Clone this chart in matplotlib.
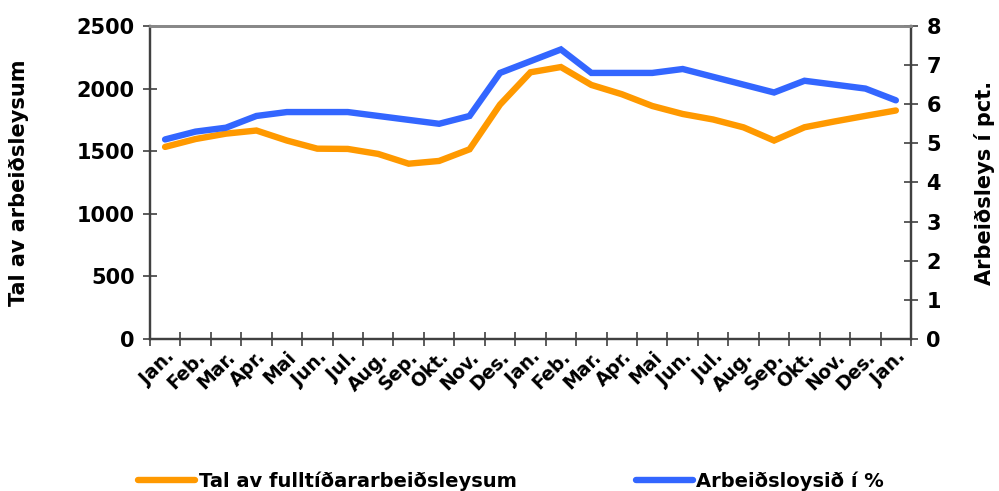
import matplotlib
matplotlib.use("Agg")
import matplotlib.pyplot as plt
import numpy as np

months = ["Jan.", "Feb.", "Mar.", "Apr.", "Mai", "Jun.", "Jul.", "Aug.", "Sep.", "Okt.", "Nov.", "Des.",
          "Jan.", "Feb.", "Mar.", "Apr.", "Mai", "Jun.", "Jul.", "Aug.", "Sep.", "Okt.", "Nov.", "Des.", "Jan."]
fulltid = [1534, 1597, 1640, 1665, 1585, 1520, 1518, 1478, 1400, 1422, 1515, 1872,
           2130, 2172, 2029, 1955, 1861, 1797, 1753, 1690, 1585, 1691, 1738, 1782, 1825]
pct = [5.1, 5.3, 5.4, 5.7, 5.8, 5.8, 5.8, 5.7, 5.6, 5.5, 5.7, 6.8,
       7.1, 7.4, 6.8, 6.8, 6.8, 6.9, 6.7, 6.5, 6.3, 6.6, 6.5, 6.4, 6.1]

label_left = "Tal av arbeiðsleysum"
label_right = "Arbeiðsleys í pct."
leg1 = "Tal av fulltíðararbeiðsleysum"
leg2 = "Arbeiðsloysið í %"

orange = "#FF9900"
blue = "#3366FF"
dark = "#404040"

plt.rcParams['font.family'] = ['DejaVu Sans']
plt.rcParams['font.weight'] = 'bold'

fig = plt.figure(figsize=(9.99, 4.91), dpi=100)
ax = fig.add_axes([0.150, 0.3096, 0.762, 0.6375])
ax2 = ax.twinx()

x = np.arange(len(months))
l1, = ax.plot(x, fulltid, color=orange, lw=4.6, solid_capstyle='round', solid_joinstyle='miter')
l2, = ax2.plot(x, pct, color=blue, lw=4.6, solid_capstyle='round', solid_joinstyle='miter')

ax.set_xlim(-0.5, len(months) - 0.5)
ax.set_ylim(0, 2500)
ax2.set_ylim(0, 8)
ax.set_yticks(np.arange(0, 2501, 500))
ax2.set_yticks(np.arange(0, 9, 1))

ax.set_xticks(x)
ax.set_xticklabels(months, rotation=45, ha='right', rotation_mode='anchor', fontsize=13.5, fontweight='bold')
ax.set_xticks(np.arange(-0.5, len(months), 1), minor=True)
ax.tick_params(axis='x', which='major', length=0, pad=6)
ax.tick_params(axis='x', which='minor', length=10, direction='inout', width=1.2, color=dark)
ax.tick_params(axis='y', length=10, direction='inout', width=1.2, color=dark, labelsize=15, pad=6)
ax2.tick_params(axis='y', length=10, direction='inout', width=1.2, color=dark, labelsize=15, pad=6)
for lab in ax.get_yticklabels() + ax2.get_yticklabels():
    lab.set_fontweight('bold')

for a in (ax, ax2):
    a.spines['top'].set_color('#888888')
    a.spines['top'].set_linewidth(2)
    for s in ('left', 'right', 'bottom'):
        a.spines[s].set_color(dark)
        a.spines[s].set_linewidth(1.6)

ax.set_ylabel(label_left, fontsize=15, fontweight='bold', labelpad=34)
ax2.set_ylabel(label_right, fontsize=15, fontweight='bold', labelpad=24)

fig.legend([l1, l2], [leg1, leg2], loc='lower left', bbox_to_anchor=(0.121, -0.035), ncol=2,
           frameon=False, handlelength=2.9, handletextpad=0.2, columnspacing=6.15,
           prop={'weight': 'bold', 'size': 14})

fig.savefig("out.png", dpi=100)
